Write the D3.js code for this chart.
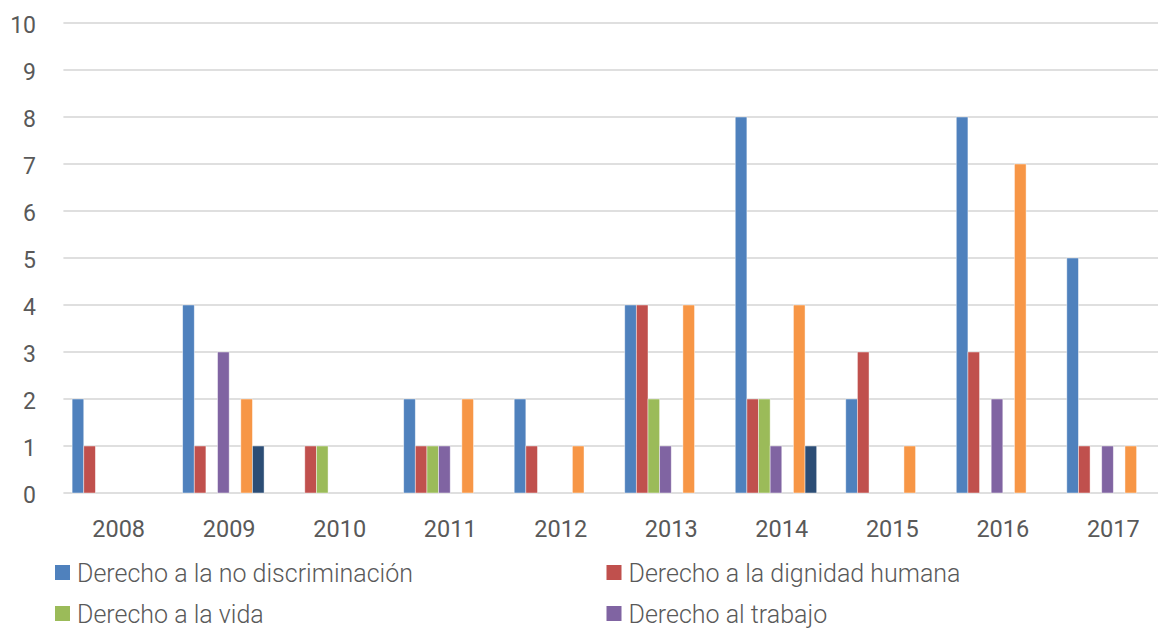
<!DOCTYPE html>
<html>
<head>
<meta charset="utf-8">
<script src="https://cdn.jsdelivr.net/npm/d3@7"></script>
<style>
  html, body { margin: 0; padding: 0; background: #fff; }
  svg { display: block; }
  text { font-family: Roboto, "Open Sans", sans-serif; fill: #595959; }
</style>
</head>
<body>
<svg id="chart" width="1158" height="628"></svg>
<script>
// Years on the category axis
const years = ["2008", "2009", "2010", "2011", "2012", "2013", "2014", "2015", "2016", "2017"];

// Counts per year for each series
const noDiscriminacion = [2, 4, 0, 2, 2, 4, 8, 2, 8, 5];
const dignidadHumana   = [1, 1, 1, 1, 1, 4, 2, 3, 3, 1];
const vida             = [0, 0, 1, 1, 0, 2, 2, 0, 0, 0];
const trabajo          = [0, 3, 0, 1, 0, 1, 1, 0, 2, 1];
const serie5           = [0, 0, 0, 0, 0, 0, 0, 0, 0, 0];
const serie6           = [0, 2, 0, 2, 1, 4, 4, 1, 7, 1];
const serie7           = [0, 1, 0, 0, 0, 0, 1, 0, 0, 0];
const serie8           = [0, 0, 0, 0, 0, 0, 0, 0, 0, 0];

const seriesValues = [noDiscriminacion, dignidadHumana, vida, trabajo, serie5, serie6, serie7, serie8];
const seriesColors = ["#4F81BD", "#C0504D", "#9BBB59", "#8064A2", "#4BACC6", "#F79646", "#2C4D75", "#772C2A"];

// Legend entries (two columns)
const legendLabels = [
  "Derecho a la no discriminación",
  "Derecho a la dignidad humana",
  "Derecho a la vida",
  "Derecho al trabajo"
];

// Y axis ticks
const yTicks = [0, 1, 2, 3, 4, 5, 6, 7, 8, 9, 10];

const svg = d3.select("#chart");

const plotLeft = 63.4, plotRight = 1168.6, plotTop = 23, plotBottom = 493;

const y = d3.scaleLinear().domain([0, 10]).range([plotBottom, plotTop]);

// Gap between groups = 1.5 bar widths
const x0 = d3.scaleBand()
  .domain(years)
  .range([plotLeft, plotRight])
  .paddingInner(1.5 / 9.5)
  .paddingOuter(0.75 / 9.5);

const x1 = d3.scaleBand()
  .domain(d3.range(seriesValues.length))
  .range([0, x0.bandwidth()]);

// Gridlines
svg.append("g")
  .selectAll("line")
  .data(yTicks)
  .join("line")
  .attr("x1", plotLeft)
  .attr("x2", 1158)
  .attr("y1", d => y(d))
  .attr("y2", d => y(d))
  .attr("stroke", "#d4d4d4")
  .attr("stroke-width", 1.5);

// Y tick labels
svg.append("g")
  .selectAll("text")
  .data(yTicks)
  .join("text")
  .attr("x", 36)
  .attr("y", d => y(d) + 2)
  .attr("dy", "0.35em")
  .attr("text-anchor", "end")
  .attr("font-size", 23)
  .text(d => d);

// Bars
const groups = svg.append("g")
  .selectAll("g")
  .data(years)
  .join("g")
  .attr("transform", d => `translate(${x0(d)},0)`);

groups.selectAll("rect")
  .data((d, i) => seriesValues.map((vals, s) => ({ s, v: vals[i] })))
  .join("rect")
  .filter(d => d.v > 0)
  .attr("x", d => x1(d.s))
  .attr("width", x1.bandwidth())
  .attr("y", d => y(d.v))
  .attr("height", d => y(0) - y(d.v))
  .attr("fill", d => seriesColors[d.s])
  .attr("stroke", "rgba(255,255,255,0.55)")
  .attr("stroke-width", 0.8);

// Year labels
svg.append("g")
  .selectAll("text")
  .data(years)
  .join("text")
  .attr("x", d => x0(d) + x0.bandwidth() / 2)
  .attr("y", 537)
  .attr("text-anchor", "middle")
  .attr("font-size", 23.5)
  .text(d => d);

// Legend
const legendCols = [55, 606.5];
const legendRows = [565, 606];
const legend = svg.append("g")
  .selectAll("g")
  .data(legendLabels)
  .join("g")
  .attr("transform", (d, i) => `translate(${legendCols[i % 2]},${legendRows[Math.floor(i / 2)]})`);

legend.append("rect")
  .attr("width", 15)
  .attr("height", 15)
  .attr("fill", (d, i) => seriesColors[i]);

legend.append("text")
  .attr("x", 22)
  .attr("y", 16.5)
  .attr("font-size", 25)
  .attr("font-weight", 300)
  .text(d => d);
</script>
</body>
</html>
